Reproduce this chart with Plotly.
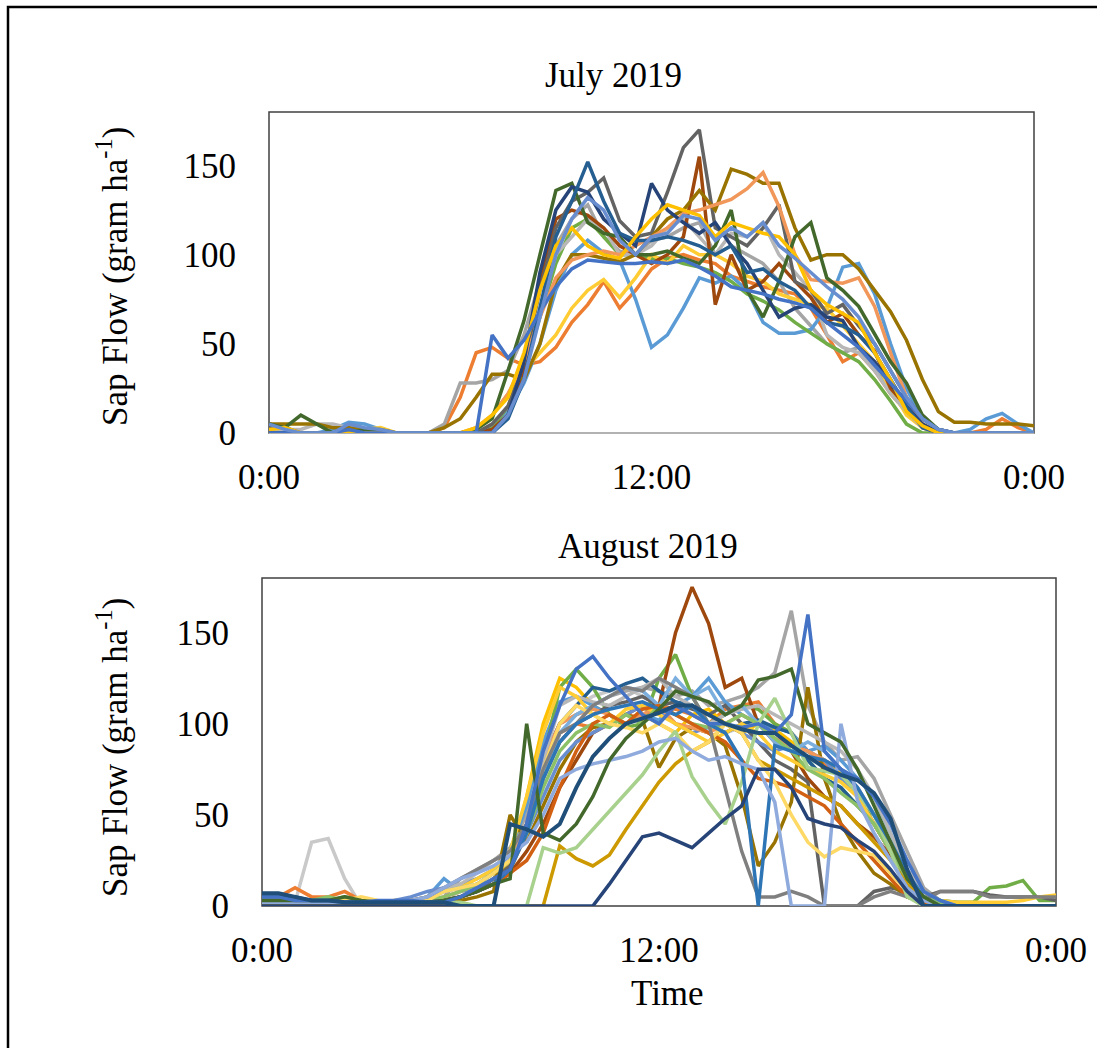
import plotly.graph_objects as go

W, H = 1097, 1048

# time stamps (hours, 30-min steps)
hours = [i * 0.5 for i in range(49)]
tick_vals = [0, 12, 24]
tick_text = ["0:00", "12:00", "0:00"]
y_ticks = [0, 50, 100, 150]

# ---------------- July 2019 series ----------------
jul_4472C4 = [0,0,0,0,0,2,0,0,0,0,0,0,0,0, 55,42,52,68,82,92,97,96,95,95,96,95,97,93, 88,82,80,78,75,73,70,62,55,48,38,28,18,8, 2,0,0,0,0,0,0]
jul_ED7D31 = [3,0,0,0,0,0,2,0,0,0,0,3,20,45, 48,42,38,40,48,62,72,85,70,80,92,98,100,97, 95,88,85,82,80,78,70,55,40,45,35,22,12,4, 0,0,0,2,8,3,0]
jul_A5A5A5 = [2,3,0,0,0,2,0,0,0,0,0,5,28,28, 30,35,55,85,105,120,128,110,102,100,108,110,115,118, 100,105,100,95,85,70,60,50,45,48,35,25,15,5, 0,0,0,0,0,0,0]
jul_FFC000 = [2,3,0,0,0,0,0,0,0,0,0,0,0,3, 10,20,45,80,105,115,105,100,98,110,120,128,125,122, 110,118,115,112,110,100,80,72,67,62,45,30,12,4, 0,0,0,0,0,0,0]
jul_5B9BD5 = [5,3,0,0,2,6,5,2,0,0,0,0,0,0, 3,12,28,50,80,100,108,101,97,75,48,55,70,87, 84,88,80,62,56,56,58,70,93,95,78,50,25,8, 2,0,2,8,11,5,0]
jul_70AD47 = [0,0,0,0,0,0,0,0,0,0,0,0,0,0, 3,15,35,65,95,115,120,110,100,100,98,98,95,93, 90,85,78,74,69,62,56,50,45,40,30,18,5,0, 0,0,0,0,0,0,0]
jul_264478 = [0,0,0,0,0,0,0,0,0,0,0,0,0,0, 0,10,40,90,125,138,135,120,112,105,140,125,118,112, 118,105,95,80,65,70,72,65,63,48,40,28,15,5, 0,0,0,0,0,0,0]
jul_9E480E = [0,0,0,0,0,0,0,0,0,0,0,0,0,0, 2,10,35,85,120,125,122,115,105,100,95,100,110,155, 72,100,80,85,95,85,76,62,67,55,46,25,15,5, 0,0,0,0,0,0,0]
jul_636363 = [3,3,0,0,0,2,0,0,0,0,0,0,0,0, 5,15,40,80,115,130,135,143,119,110,112,135,160,170, 115,110,105,115,128,85,80,67,72,60,50,35,20,8, 2,0,0,0,0,0,0]
jul_997300 = [5,5,5,5,3,3,2,2,0,0,0,3,8,20, 33,33,30,50,85,100,100,98,96,100,110,120,125,136, 125,148,145,140,140,115,97,100,100,92,80,68,52,30, 12,6,6,5,5,5,4]
jul_255E91 = [0,0,0,0,0,0,0,0,0,0,0,0,0,0, 0,8,30,70,110,130,152,130,112,108,108,110,108,105, 100,105,90,92,85,80,70,62,60,55,45,30,15,3, 0,0,0,0,0,0,0]
jul_43682B = [5,3,10,5,0,0,2,0,0,0,0,0,0,2, 8,35,63,100,136,140,118,112,110,100,100,102,98,95, 105,125,80,65,85,110,118,87,80,71,55,40,28,10, 2,0,0,0,0,0,0]
jul_698ED0 = [5,2,0,0,0,5,3,2,0,0,0,0,0,0, 0,10,30,65,100,120,132,125,108,100,110,112,122,120, 108,115,110,118,105,98,90,82,75,65,50,35,20,8, 2,0,0,0,0,0,0]
jul_F1975A = [0,0,0,0,0,0,0,0,0,0,0,0,0,3, 10,22,40,65,87,97,100,102,100,105,110,115,123,125, 128,131,137,146,127,100,86,85,84,87,71,45,20,3, 0,0,0,0,0,0,0]
jul_B7B7B7 = [2,2,2,5,5,3,2,0,0,0,0,0,0,0, 5,15,35,70,100,110,120,115,100,100,105,115,120,110, 100,112,110,118,100,90,80,55,48,45,35,22,12,3, 0,0,0,0,0,0,0]
jul_FFCD33 = [3,3,0,0,0,0,2,3,0,0,0,0,0,2, 10,22,35,45,55,70,80,86,76,87,100,95,105,100, 100,95,88,85,78,75,72,70,60,50,40,25,10,3, 0,0,0,0,0,0,0]

july_series = [
    ("#ED7D31", jul_ED7D31), ("#A5A5A5", jul_A5A5A5), ("#5B9BD5", jul_5B9BD5),
    ("#70AD47", jul_70AD47), ("#FFCD33", jul_FFCD33), ("#B7B7B7", jul_B7B7B7),
    ("#9E480E", jul_9E480E), ("#636363", jul_636363), ("#997300", jul_997300),
    ("#F1975A", jul_F1975A), ("#43682B", jul_43682B), ("#264478", jul_264478),
    ("#255E91", jul_255E91), ("#FFC000", jul_FFC000), ("#4472C4", jul_4472C4),
    ("#698ED0", jul_698ED0),
]

# ---------------- August 2019 series ----------------
aug_4472C4 = [5,5,3,3,3,2,2,3,3,3,2,2,5,10, 15,20,45,85,110,130,137,125,115,105,100,110,105,100, 100,98,100,95,105,160,85,75,70,60,45,25,8,3, 0,0,0,0,0,0,0]
aug_ED7D31 = [2,5,10,5,5,8,3,2,2,2,2,3,5,8, 12,20,40,70,95,100,98,100,105,103,110,108,105,100, 108,110,112,100,95,85,78,70,60,45,30,15,5,2, 0,0,0,0,0,0,0]
aug_A5A5A5 = [0,0,0,0,0,0,0,0,0,0,2,5,15,20, 25,32,50,80,100,105,110,115,118,120,118,115,118,110, 112,115,120,128,162,110,90,80,82,70,50,30,10,3, 0,0,0,0,0,0,0]
aug_FFC000 = [3,2,2,2,3,2,2,2,3,3,2,3,5,10, 15,25,60,100,125,120,110,105,100,105,100,95,105,108, 100,95,100,97,90,85,80,72,60,45,35,15,5,2, 0,0,0,0,0,0,0]
aug_5B9BD5 = [3,3,2,2,2,2,2,2,2,3,5,15,8,10, 20,30,55,90,112,115,110,105,100,105,102,110,115,125, 112,105,100,98,95,85,88,80,70,60,40,20,8,3, 2,0,0,0,0,0,0]
aug_70AD47 = [5,5,3,3,3,5,3,2,2,2,2,3,5,8, 12,20,45,80,120,130,120,105,98,100,125,138,115,100, 105,110,108,100,95,80,70,65,55,50,35,18,8,3, 2,2,10,11,14,3,3]
aug_264478 = [0,0,0,0,0,0,0,0,0,0,0,0,0,0, 0,0,0,0,0,0,0,12,25,38,40,36,32,40, 48,55,75,75,65,48,45,43,36,30,20,8,0,0, 0,0,0,0,0,0,0]
aug_9E480E = [2,2,2,3,3,2,2,2,2,2,2,3,5,8, 12,18,30,45,65,80,95,100,105,110,110,150,175,155, 120,125,100,90,85,70,60,55,45,38,28,15,5,0, 0,0,0,0,0,0,0]
aug_636363 = [0,0,0,0,0,0,0,0,0,0,0,2,5,8, 15,22,40,70,90,100,105,110,112,115,110,112,108,105, 110,100,90,80,75,68,0,0,0,8,10,8,5,8, 8,8,6,5,5,5,3]
aug_997300 = [2,2,2,2,2,2,2,2,2,2,2,2,3,5, 8,50,35,55,75,90,98,100,105,102,76,92,98,95, 88,60,22,35,57,120,70,45,30,18,12,5,2,0, 0,0,0,0,0,0,0]
aug_255E91 = [5,5,5,3,3,2,2,2,2,2,2,3,5,8, 12,20,45,80,100,110,120,118,122,125,118,112,110,100, 95,100,102,98,95,80,70,65,55,45,30,15,5,0, 0,0,0,0,0,0,0]
aug_43682B = [3,3,3,3,3,5,3,2,2,2,2,3,5,8, 12,15,100,40,36,45,60,80,92,100,108,118,115,112, 105,110,124,126,130,100,95,90,75,55,35,15,5,0, 0,0,0,0,0,0,0]
aug_698ED0 = [3,3,2,2,2,2,2,2,3,5,8,10,12,15, 20,28,40,60,80,90,95,100,105,110,108,100,95,98, 100,95,90,85,88,85,80,70,60,45,30,15,5,0, 0,0,0,0,0,0,0]
aug_F1975A = [3,3,3,3,3,3,2,2,2,2,3,5,8,12, 18,25,45,80,100,105,108,105,100,105,110,100,98,95, 100,105,100,92,88,85,80,75,65,50,35,18,5,2, 0,0,0,0,0,0,0]
aug_B7B7B7 = [2,2,2,2,2,2,2,2,2,3,5,10,12,18, 25,30,45,80,110,115,112,110,115,120,125,115,110,100, 105,108,110,105,100,95,90,85,75,60,40,20,8,3, 0,0,0,0,0,0,0]
aug_FFCD33 = [3,3,3,2,2,2,2,2,2,3,5,8,10,15, 20,30,60,95,120,115,105,100,108,110,105,100,95,90, 95,100,95,85,80,75,72,68,60,45,30,15,5,3, 2,2,2,2,3,5,6]
aug_7CAFDD = [2,2,2,2,2,2,2,2,2,2,3,8,10,12, 18,25,40,70,95,105,110,115,120,118,110,125,115,120, 105,110,100,90,85,90,85,75,65,50,35,18,5,3, 0,0,0,0,0,0,0]
aug_8CC168 = [2,2,2,3,5,3,2,2,2,2,3,5,8,12, 18,25,40,65,85,95,100,98,105,100,110,105,100,98, 100,105,100,92,85,75,70,62,55,45,30,15,5,2, 0,0,0,0,0,0,0]
aug_D26012 = [2,2,2,2,2,2,2,2,2,2,2,3,5,8, 12,18,25,40,65,85,100,105,100,108,110,105,100,95, 90,80,70,68,65,60,55,45,35,25,15,5,2,0, 0,0,0,0,0,0,0]
aug_CC9A00 = [0,0,0,0,0,0,0,0,0,0,0,0,0,0, 0,0,0,0,33,26,22,28,42,55,68,78,85,90, 100,95,80,75,70,65,60,55,45,35,25,12,3,0, 0,0,0,0,0,0,0]
aug_FFD966 = [2,2,2,2,2,3,5,3,2,2,3,8,10,12, 18,25,40,75,100,110,105,100,98,95,100,95,85,90, 100,95,80,68,50,35,27,32,30,28,18,8,0,0, 0,0,0,0,0,0,0]
aug_8FAADC = [2,2,2,2,2,2,2,2,2,3,5,10,15,18, 22,28,35,50,70,75,78,80,82,85,90,92,85,80, 82,78,75,57,0,0,0,100,58,40,25,10,3,0, 0,0,0,0,0,0,0]
aug_2E75B6 = [3,3,2,2,2,2,2,2,2,2,2,3,5,8, 12,20,40,70,90,100,105,108,110,112,108,105,110,100, 95,80,0,88,85,82,80,75,65,50,35,18,5,0, 0,0,0,0,0,0,0]
aug_7F7F7F = [2,2,2,2,2,2,2,2,2,3,5,10,15,20, 25,30,45,75,95,100,110,115,120,118,125,120,115,100, 65,30,5,5,8,5,0,0,0,5,8,5,3,8, 8,8,5,5,5,5,5]
aug_C9C9C9 = [0,0,2,35,37,15,0,0,0,0,0,3,8,10, 15,25,40,70,100,110,115,118,120,115,110,112,105,100, 95,98,100,95,90,85,80,70,60,45,30,15,5,0, 0,0,0,0,0,0,0]
aug_A9D18E = [2,2,2,2,2,2,2,2,2,2,2,2,2,0, 0,0,0,32,29,32,42,52,62,72,85,96,71,57, 45,68,100,114,95,76,74,72,62,50,30,5,0,0, 0,0,0,0,0,0,0]
aug_1F4E79 = [7,7,5,3,3,2,2,2,2,2,2,2,0,0, 0,45,42,38,45,65,82,92,100,103,106,110,110,105, 100,97,95,95,88,82,76,72,69,62,48,20,0,0, 0,0,0,0,0,0,0]

august_series = [
    ("#C9C9C9", aug_C9C9C9), ("#ED7D31", aug_ED7D31), ("#A5A5A5", aug_A5A5A5),
    ("#FFC000", aug_FFC000), ("#5B9BD5", aug_5B9BD5), ("#70AD47", aug_70AD47),
    ("#9E480E", aug_9E480E), ("#636363", aug_636363), ("#997300", aug_997300),
    ("#255E91", aug_255E91), ("#698ED0", aug_698ED0), ("#F1975A", aug_F1975A),
    ("#B7B7B7", aug_B7B7B7), ("#FFCD33", aug_FFCD33), ("#7CAFDD", aug_7CAFDD),
    ("#8CC168", aug_8CC168), ("#D26012", aug_D26012), ("#CC9A00", aug_CC9A00),
    ("#FFD966", aug_FFD966), ("#7F7F7F", aug_7F7F7F), ("#A9D18E", aug_A9D18E),
    ("#2E75B6", aug_2E75B6), ("#8FAADC", aug_8FAADC), ("#264478", aug_264478),
    ("#43682B", aug_43682B), ("#4472C4", aug_4472C4), ("#1F4E79", aug_1F4E79),
]

FONT = "Liberation Serif, Times New Roman, serif"
FS = 35

fig = go.Figure()
for color, vals in july_series:
    fig.add_trace(go.Scatter(x=hours, y=vals, mode="lines", xaxis="x", yaxis="y",
                             line=dict(color=color, width=3.5), showlegend=False, hoverinfo="skip"))
for color, vals in august_series:
    w = 4 if color == "#1F4E79" else 3.5
    fig.add_trace(go.Scatter(x=hours, y=vals, mode="lines", xaxis="x2", yaxis="y2",
                             line=dict(color=color, width=w), showlegend=False, hoverinfo="skip"))

def px_x(p):
    return p / W

def px_y(p):
    return 1 - p / H

xcommon = dict(range=[0, 24], tickvals=tick_vals, ticktext=tick_text, showgrid=False,
               zeroline=False, ticks="", ticklabelstandoff=20, automargin=False,
               showline=False, tickfont=dict(family=FONT, size=FS, color="black"))
ycommon = dict(range=[0, 180], tickvals=y_ticks, showgrid=False, zeroline=False,
               showline=False, ticks="", ticklabelstandoff=32, automargin=False,
               tickfont=dict(family=FONT, size=FS, color="black"))

fig.update_layout(
    template="none",
    width=W, height=H, autosize=False,
    margin=dict(l=0, r=0, t=0, b=0, pad=0),
    paper_bgcolor="white", plot_bgcolor="white",
    font=dict(family=FONT, size=FS, color="black"),
    xaxis=dict(domain=[px_x(269), px_x(1034)], anchor="y", **xcommon),
    yaxis=dict(domain=[px_y(433), px_y(112)], anchor="x", **ycommon),
    xaxis2=dict(domain=[px_x(262), px_x(1056)], anchor="y2", **xcommon),
    yaxis2=dict(domain=[px_y(906), px_y(578)], anchor="x2", **ycommon),
)

shapes = [
    dict(type="rect", xref="x domain", yref="y domain", x0=0, x1=1, y0=0, y1=1,
         line=dict(color="#404040", width=1.5), layer="below"),
    dict(type="line", xref="x domain", yref="y domain", x0=0, x1=1, y0=0, y1=0,
         line=dict(color="#C8C8C8", width=1.5), layer="below"),
    dict(type="rect", xref="x2 domain", yref="y2 domain", x0=0, x1=1, y0=0, y1=1,
         line=dict(color="#404040", width=1.5), layer="below"),
    dict(type="rect", xref="paper", yref="paper", x0=px_x(8), x1=px_x(1110),
         y0=px_y(1060), y1=px_y(7), line=dict(color="black", width=2.5)),
]
fig.update_layout(shapes=shapes)

annotations = [
    dict(text="July 2019", x=px_x(613), y=px_y(75), xref="paper", yref="paper",
         showarrow=False, xanchor="center", yanchor="middle", font=dict(size=FS)),
    dict(text="August 2019", x=px_x(648), y=px_y(546), xref="paper", yref="paper",
         showarrow=False, xanchor="center", yanchor="middle", font=dict(size=FS)),
    dict(text="Time", x=px_x(667), y=px_y(993), xref="paper", yref="paper",
         showarrow=False, xanchor="center", yanchor="middle", font=dict(size=FS)),
    dict(text="Sap Flow (gram ha<sup>-1</sup>)", x=px_x(112), y=px_y(277), xref="paper",
         yref="paper", showarrow=False, xanchor="center", yanchor="middle",
         textangle=-90, font=dict(size=FS)),
    dict(text="Sap Flow (gram ha<sup>-1</sup>)", x=px_x(112), y=px_y(748), xref="paper",
         yref="paper", showarrow=False, xanchor="center", yanchor="middle",
         textangle=-90, font=dict(size=FS)),
]
fig.update_layout(annotations=annotations)

fig.write_html("out.html")
